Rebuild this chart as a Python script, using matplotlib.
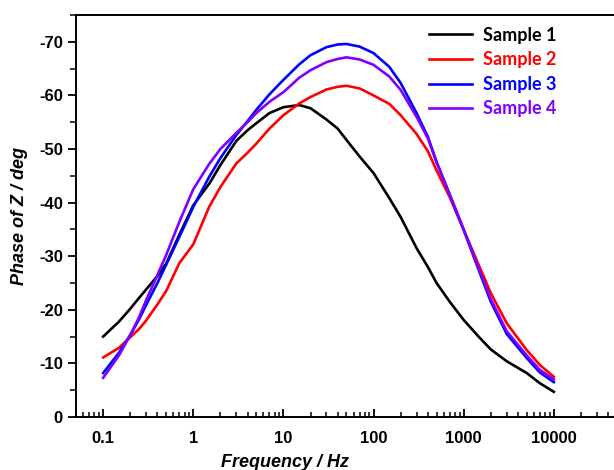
import numpy as np
import matplotlib
matplotlib.use('Agg')
import matplotlib.pyplot as plt
from matplotlib.ticker import FixedLocator, FuncFormatter, LogLocator, MultipleLocator, NullFormatter

matplotlib.rcParams['font.family'] = 'Liberation Sans'
matplotlib.rcParams['axes.unicode_minus'] = False

# -- data (frequency in Hz, phase in deg) --
freq = [0.1, 0.15, 0.2, 0.25, 0.3, 0.4, 0.5, 0.7, 1, 1.5, 2, 3, 4, 5, 7, 10, 15, 20, 30, 40,
        50, 70, 100, 150, 200, 300, 400, 500, 700, 1000, 1500, 2000, 3000, 5000, 7000, 10000]
phase1 = [-15.0, -17.8, -20.2, -22.2, -23.8, -26.3, -28.6, -34.0, -39.5, -43.5, -47.0, -51.5,
          -53.5, -54.8, -56.7, -57.8, -58.2, -57.6, -55.5, -53.8, -51.7, -48.6, -45.5, -40.8,
          -37.3, -31.5, -28.0, -25.0, -21.5, -18.1, -14.8, -12.6, -10.4, -8.2, -6.3, -4.7]
phase2 = [-11.1, -12.9, -14.9, -16.4, -18.0, -21.0, -23.5, -28.7, -32.2, -39.2, -42.9, -47.3,
          -49.3, -51.0, -53.8, -56.3, -58.5, -59.7, -61.1, -61.6, -61.8, -61.3, -60.0, -58.4,
          -56.3, -52.8, -49.6, -46.0, -41.0, -34.9, -28.0, -23.1, -17.5, -12.5, -9.7, -7.5]
phase3 = [-8.2, -12.0, -15.3, -18.2, -20.9, -25.0, -28.4, -33.6, -39.2, -44.8, -48.3, -52.6,
          -55.2, -57.3, -60.2, -62.9, -65.8, -67.5, -69.0, -69.5, -69.6, -69.1, -67.9, -65.3,
          -62.3, -56.7, -52.3, -47.6, -41.5, -34.9, -27.0, -21.5, -15.5, -11.0, -8.3, -6.5]
phase4 = [-7.3, -11.5, -15.3, -18.6, -21.8, -26.5, -30.2, -36.4, -42.5, -47.2, -50.0, -53.0,
          -55.0, -56.7, -58.8, -60.6, -63.3, -64.7, -66.2, -66.8, -67.1, -66.7, -65.7, -63.5,
          -61.0, -56.0, -52.0, -47.5, -41.5, -35.0, -27.3, -22.0, -16.0, -11.5, -8.8, -7.0]
labels = ['Sample 1', 'Sample 2', 'Sample 3', 'Sample 4']
colors = ['#000000', '#FF0000', '#0000FF', '#8000FF']

fig = plt.figure(figsize=(6.14, 4.70), dpi=100)
ax = fig.add_axes([0.1238, 0.1128, 0.925, 0.8553])

for ph, lab, col in zip([phase1, phase2, phase3, phase4], labels, colors):
    ax.plot(freq, ph, color=col, lw=1.9, label=lab)

ax.set_xscale('log')
ax.set_xlim(0.05, 1e5)
ax.set_ylim(0, -75)

ax.xaxis.set_major_locator(FixedLocator([0.1, 1, 10, 100, 1000, 10000, 100000]))
ax.xaxis.set_major_formatter(FuncFormatter(lambda v, p: '%g' % v if v <= 10000 else ''))
ax.xaxis.set_minor_locator(LogLocator(base=10, subs=np.arange(2, 10), numticks=20))
ax.xaxis.set_minor_formatter(NullFormatter())
ax.yaxis.set_major_locator(MultipleLocator(10))
ax.yaxis.set_minor_locator(MultipleLocator(5))

ax.tick_params(axis='x', which='major', direction='in', length=6, width=1.3, pad=10)
ax.tick_params(axis='x', which='minor', direction='in', length=3.5, width=1.1)
ax.tick_params(axis='y', which='major', direction='out', length=6, width=1.3)
ax.tick_params(axis='y', which='minor', direction='out', length=4, width=1.1)
for lab in ax.get_xticklabels() + ax.get_yticklabels():
    lab.set_fontsize(12)
    lab.set_fontweight('bold')

for s in ['left', 'bottom', 'top']:
    ax.spines[s].set_linewidth(1.4)
ax.spines['right'].set_visible(False)

ax.set_xlabel('Frequency / Hz', fontsize=13, fontweight='bold', style='italic')
ax.set_ylabel('Phase of Z / deg', fontsize=13, fontweight='bold', style='italic')
ax.xaxis.set_label_coords(0.368, -0.092)
ax.yaxis.set_label_coords(-0.085, 0.5)

leg = ax.legend(loc='upper left', bbox_to_anchor=(0.6, 1.0), frameon=False,
                labelcolor='linecolor', handlelength=2.4, handletextpad=0.6,
                labelspacing=0.42, borderaxespad=0.25,
                prop={'family': 'Lato', 'weight': 'bold', 'size': 13})

fig.savefig('out.png', dpi=100)
